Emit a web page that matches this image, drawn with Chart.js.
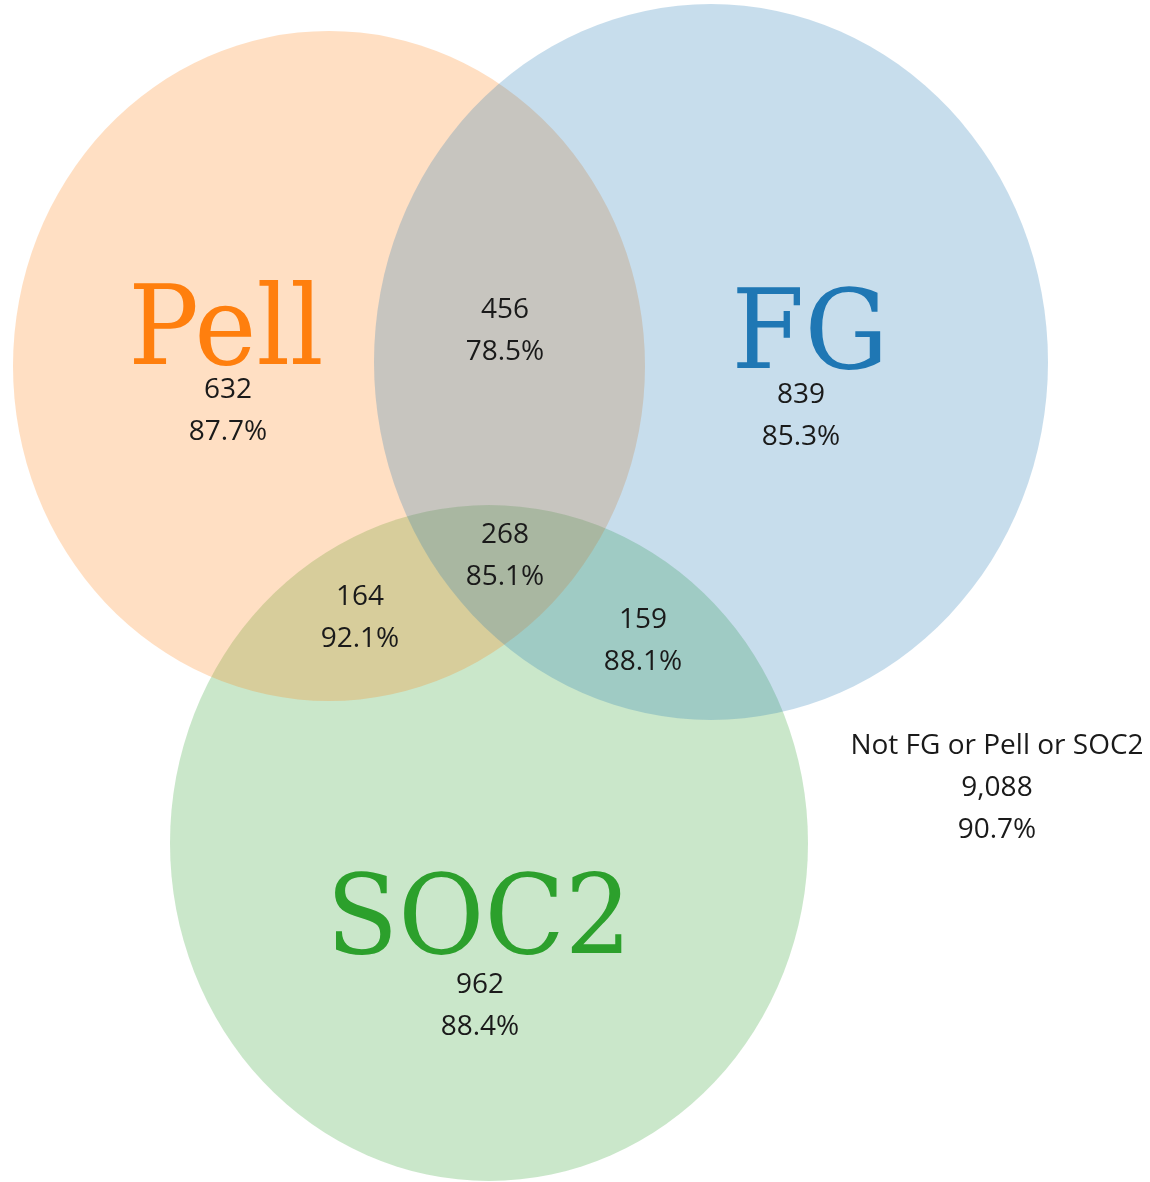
<!DOCTYPE html>
<html>
<head>
<meta charset="utf-8">
<script src="https://cdn.jsdelivr.net/npm/chart.js@4/dist/chart.umd.min.js"></script>
<style>
  html, body { margin: 0; padding: 0; background: #ffffff; }
  #wrap { width: 1150px; height: 1182px; position: relative; }
</style>
</head>
<body>
<div id="wrap"><canvas id="c"></canvas></div>
<script>
// ---- data ----
const setNames = ['Pell', 'FG', 'SOC2'];
const regionNames = ['Pell only', 'Pell & FG', 'FG only', 'Pell & FG & SOC2', 'Pell & SOC2', 'FG & SOC2', 'SOC2 only', 'Not FG or Pell or SOC2'];
const regionCounts = ['632', '456', '839', '268', '164', '159', '962', '9,088'];
const regionPcts = ['87.7%', '78.5%', '85.3%', '85.1%', '92.1%', '88.1%', '88.4%', '90.7%'];

// ---- layout (geometry of the diagram, in axis units) ----
const setColors = ['#ff7f0e', '#1f77b4', '#2ca02c'];
const setGeom = [
  { cx: 329, cy: 366, rx: 316, ry: 335 },
  { cx: 711, cy: 362, rx: 337, ry: 358 },
  { cx: 489, cy: 843, rx: 319, ry: 338 }
];
const drawOrder = [2, 0, 1];
const setLabelPos = [
  { x: 226, y: 364 },
  { x: 810, y: 368 },
  { x: 479, y: 953 }
];
const regionPos = [
  { x: 228, y: 390 }, { x: 505, y: 310 }, { x: 801, y: 395 },
  { x: 505, y: 535 }, { x: 360, y: 597 }, { x: 643, y: 620 },
  { x: 480, y: 985 }, { x: 997, y: 746 }
];

function hexA(hex, a) {
  const n = parseInt(hex.slice(1), 16);
  return `rgba(${(n >> 16) & 255},${(n >> 8) & 255},${n & 255},${a})`;
}

const vennPlugin = {
  id: 'venn',
  beforeDatasetsDraw(chart) {
    const { ctx, scales: { x, y } } = chart;
    ctx.save();
    drawOrder.forEach(i => {
      const g = setGeom[i];
      const px = x.getPixelForValue(g.cx), py = y.getPixelForValue(g.cy);
      const prx = Math.abs(x.getPixelForValue(g.cx + g.rx) - px);
      const pry = Math.abs(y.getPixelForValue(g.cy + g.ry) - py);
      ctx.beginPath();
      ctx.ellipse(px, py, prx, pry, 0, 0, Math.PI * 2);
      ctx.fillStyle = hexA(setColors[i], 0.25);
      ctx.fill();
    });
    ctx.restore();
  },
  afterDatasetsDraw(chart) {
    const { ctx } = chart;
    ctx.save();
    ctx.textAlign = 'center';
    const sx = 0.955;
    // set names
    const m0 = chart.getDatasetMeta(0);
    m0.data.forEach((pt, i) => {
      ctx.save();
      ctx.translate(pt.x, pt.y);
      ctx.scale(sx, 1);
      ctx.font = '110px "DejaVu Serif"';
      ctx.fillStyle = setColors[i];
      ctx.textBaseline = 'alphabetic';
      ctx.fillText(setNames[i], 0, 0);
      ctx.restore();
    });
    // region counts
    const m1 = chart.getDatasetMeta(1);
    m1.data.forEach((pt, i) => {
      ctx.font = '28px "Open Sans"';
      ctx.fillStyle = '#1a1a1a';
      ctx.textBaseline = 'middle';
      const lines = [];
      if (i === regionCounts.length - 1) lines.push(regionNames[i]);
      lines.push(regionCounts[i], regionPcts[i]);
      lines.forEach((t, k) => ctx.fillText(t, pt.x, pt.y + k * 42));
    });
    ctx.restore();
  }
};

new Chart(document.getElementById('c'), {
  type: 'scatter',
  data: {
    datasets: [
      { label: 'sets', data: setLabelPos.map(p => ({ x: p.x, y: p.y })), pointRadius: 0 },
      { label: 'regions', data: regionPos.map(p => ({ x: p.x, y: p.y })), pointRadius: 0 }
    ]
  },
  options: {
    responsive: true,
    maintainAspectRatio: false,
    animation: false,
    layout: { padding: 0 },
    plugins: { legend: { display: false }, tooltip: { enabled: false } },
    scales: {
      x: { type: 'linear', min: 0, max: 1150, display: false },
      y: { type: 'linear', min: 0, max: 1182, reverse: true, display: false }
    }
  },
  plugins: [vennPlugin]
});
</script>
</body>
</html>
